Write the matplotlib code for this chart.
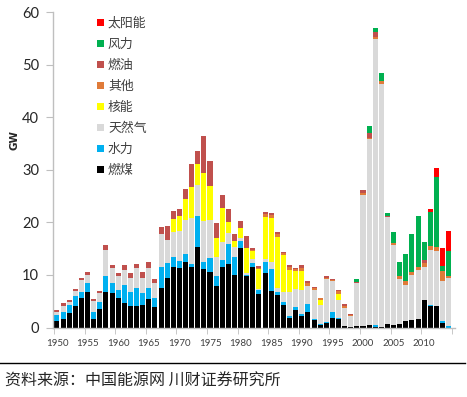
import matplotlib
matplotlib.use('Agg')
import matplotlib.pyplot as plt
from matplotlib.patches import Patch
from matplotlib.lines import Line2D
import numpy as np

# categories
years = list(range(1950, 2015))

# new capacity by fuel, GW
coal = [1.3, 1.7, 2.7, 4.1, 5.6, 6.8, 1.7, 3.5, 6.8, 6.6,
        5.6, 4.6, 4.1, 4.1, 4.3, 5.4, 3.9, 7.5, 9.5, 11.6,
        11.3, 12.4, 11.5, 15.4, 11.1, 10.6, 7.9, 11.6, 12.1, 10.0,
        15.1, 9.7, 11.6, 6.3, 10.3, 7.0, 6.1, 4.3, 1.9, 3.3,
        2.1, 3.0, 1.4, 0.5, 0.8, 1.9, 1.7, 0.2, 0.1, 0.2,
        0.2, 0.4, 0.1, 0.1, 0.7, 0.5, 0.6, 1.3, 1.4, 1.7,
        5.2, 4.0, 4.0, 0.9, 0.0]
hydro = [1.1, 1.3, 1.6, 1.8, 1.2, 1.7, 1.3, 1.4, 2.9, 1.8,
         1.5, 3.5, 2.7, 3.4, 2.3, 2.1, 1.7, 4.0, 2.8, 1.9,
         1.4, 1.5, 0.5, 5.8, 1.4, 2.6, 1.9, 1.3, 3.8, 3.5,
         1.4, 0.3, 0.6, 0.8, 2.1, 4.1, 0.6, 0.5, 0.3, 0.6,
         0.4, 1.5, 0.3, 0.1, 0.3, 1.0, 0.1, 0.0, 0.0, 0.0,
         0.0, 0.0, 0.3, 0.0, 0.0, 0.0, 0.0, 0.0, 0.0, 0.0,
         0.0, 0.2, 0.1, 0.3, 0.2]
gas = [0.6, 1.1, 0.6, 1.1, 2.2, 1.4, 2.1, 1.6, 5.1, 2.9,
       2.6, 2.9, 2.7, 3.8, 2.8, 3.8, 2.8, 6.2, 4.4, 4.6,
       5.6, 6.5, 8.8, 5.9, 7.7, 7.3, 3.7, 3.4, 2.0, 1.9,
       0.6, 0.4, 0.8, 0.2, 0.6, 1.3, 0.9, 2.0, 4.6, 3.4,
       4.6, 3.4, 5.5, 3.6, 8.1, 5.9, 3.4, 3.5, 2.1, 8.2,
       25.0, 35.4, 54.5, 46.3, 20.3, 15.1, 8.6, 6.8, 8.6, 9.2,
       6.4, 10.6, 10.4, 7.7, 9.3]
nuclear = [0, 0, 0, 0, 0, 0, 0, 0, 0, 0,
           0, 0, 0, 0, 0, 0, 0, 0, 0, 2.5,
           2.9, 4.0, 5.9, 4.0, 9.2, 6.4, 3.5, 6.4, 2.1, 1.1,
           1.8, 4.7, 1.6, 3.8, 8.1, 8.4, 9.7, 7.0, 4.2, 3.4,
           3.6, 0, 0, 1.1, 0, 0, 1.2, 0, 0, 0,
           0, 0, 0, 0, 0, 0, 0, 0, 0, 0,
           0, 0, 0, 0, 0]
other = [0, 0, 0, 0, 0, 0, 0, 0, 0, 0,
         0, 0, 0, 0, 0, 0, 0, 0, 0, 0,
         0, 0, 0, 0, 0, 0, 0, 0, 0, 0,
         0, 0, 0.2, 0.3, 0.4, 0.5, 0.4, 0.3, 0.5, 0.4,
         0.7, 0.5, 0.3, 0.3, 0.3, 0.3, 0.5, 0.4, 0.2, 0.0,
         0.4, 0.3, 0.3, 0.4, 0.0, 0.4, 0.5, 0.7, 0.5, 0.7,
         0.6, 0.7, 0.9, 1.9, 0.2]
oil = [0.4, 0.5, 0.3, 0.3, 0.5, 0.7, 0.3, 0.4, 0.9, 0.6,
       0.6, 0.9, 0.9, 0.8, 1.2, 1.2, 0.9, 1.4, 2.6, 1.6,
       1.4, 1.9, 4.4, 2.5, 7.1, 4.8, 2.8, 2.5, 2.5, 1.2,
       1.4, 2.3, 0.4, 0.3, 0.4, 0.4, 0.4, 0.3, 0.4, 0.3,
       0.4, 0.4, 0.2, 0.1, 0.2, 0.1, 0.2, 0.3, 0.2, 0.3,
       0.6, 0.9, 1.0, 0.0, 0.2, 0.0, 0.0, 0.0, 0.0, 0.0,
       0.7, 0.0, 0.0, 0.0, 0.0]
wind = [0] * 49 + [0.5,
        0.0, 1.4, 0.8, 1.6, 0.5, 2.1, 2.7, 5.1, 7.3, 9.6,
        3.4, 6.4, 13.3, 0.9, 4.8]
solar = [0] * 61 + [0.6, 1.7, 3.5, 3.8]

series = [
    ('燃煤', coal, '#000000'),
    ('水力', hydro, '#00B0F0'),
    ('天然气', gas, '#D9D9D9'),
    ('核能', nuclear, '#FFFF00'),
    ('其他', other, '#E07B39'),
    ('燃油', oil, '#C0504D'),
    ('风力', wind, '#00B050'),
    ('太阳能', solar, '#FF0000'),
]

W, H = 467, 397
fig = plt.figure(figsize=(W / 100, H / 100), dpi=100)
ax = fig.add_axes([53 / W, (H - 327.5) / H, (455 - 53) / W, 315.5 / H])

bottom = np.zeros(len(years))
for name, vals, color in series:
    ax.bar(years, vals, width=0.82, bottom=bottom, color=color, linewidth=0)
    bottom += np.array(vals)

ax.set_xlim(1949.35, 2015.03)
ax.set_ylim(0, 60)

for s in ['top', 'right']:
    ax.spines[s].set_visible(False)
for s in ['left', 'bottom']:
    ax.spines[s].set_color('#BFBFBF')
    ax.spines[s].set_linewidth(1)

ax.set_yticks(range(0, 61, 10))
ax.tick_params(axis='y', direction='out', length=5, color='#BFBFBF',
               labelsize=10.5, labelcolor='#262626', pad=5)
ax.set_xticks(range(1950, 2015, 5))
ax.set_xticks([y - 0.5 for y in range(1950, 2016, 5)], minor=True)
ax.tick_params(axis='x', which='major', length=0, labelsize=7,
               labelcolor='#404040', pad=8)
ax.tick_params(axis='x', which='minor', direction='out', length=4,
               color='#BFBFBF')
for lab in ax.get_xticklabels() + ax.get_yticklabels():
    lab.set_family(['Lato', 'DejaVu Sans'])

fig.text(15 / W, 1 - 140 / H, 'GW', rotation=90, fontsize=7.5,
         fontweight='bold', ha='center', va='center', color='#262626')

handles = [Patch(facecolor=c, edgecolor='none', label=n) for n, v, c in series[::-1]]
leg = fig.legend(handles=handles, loc='upper left',
                 bbox_to_anchor=(97 / W, 1 - 17 / H), frameon=False,
                 prop={'family': ['Noto Sans CJK SC', 'DejaVu Sans'], 'size': 9.3},
                 handlelength=0.55, handleheight=0.55, handletextpad=0.3,
                 labelspacing=0.62, borderpad=0, borderaxespad=0)
for t in leg.get_texts():
    t.set_color('#404040')

fig.add_artist(Line2D([0, 465 / W], [1 - 363 / H, 1 - 363 / H],
                      color='black', linewidth=1))
fig.text(5 / W, 1 - 381 / H, '资料来源：中国能源网 川财证券研究所',
         fontsize=11.5, va='center', ha='left', color='#262626',
         family=['Noto Sans CJK SC', 'DejaVu Sans'])

fig.savefig('out.png', dpi=100)
